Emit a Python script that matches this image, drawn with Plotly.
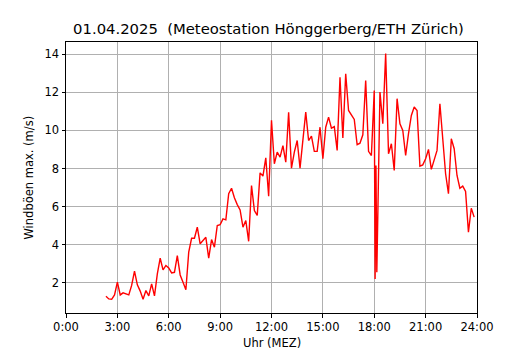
import plotly.graph_objects as go

times = ["02:20","02:30","02:40","02:50","03:00","03:10","03:20","03:30","03:40","03:50",
         "04:00","04:10","04:20","04:30","04:40","04:50","05:00","05:10","05:20","05:30",
         "05:40","05:50","06:00","06:10","06:20","06:30","06:40","06:50","07:00","07:10",
         "07:20","07:30","07:40","07:50","08:00","08:10","08:20","08:30","08:40","08:50",
         "09:00","09:10","09:20","09:30","09:40","09:50","10:00","10:10","10:20","10:30",
         "10:40","10:50","11:00","11:10","11:20","11:30","11:40","11:50","12:00","12:10",
         "12:20","12:30","12:40","12:50","13:00","13:10","13:20","13:30","13:40","13:50",
         "14:00","14:10","14:20","14:30","14:40","14:50","15:00","15:10","15:20","15:30",
         "15:40","15:50","16:00","16:10","16:20","16:30","16:40","16:50","17:00","17:10",
         "17:20","17:30","17:40","17:50","18:00","18:03","18:06","18:09","18:20","18:30",
         "18:40","18:50","19:00","19:10","19:20","19:30","19:40","19:50","20:00","20:10",
         "20:20","20:30","20:40","20:50","21:00","21:10","21:20","21:30","21:40","21:50",
         "22:00","22:10","22:20","22:30","22:40","22:50","23:00","23:10","23:20","23:30",
         "23:40","23:50"]
gusts = [1.28,1.14,1.12,1.35,2.02,1.35,1.46,1.40,1.35,1.85,
         2.60,1.88,1.55,1.12,1.58,1.30,1.93,1.30,2.46,3.28,
         2.67,2.90,2.77,2.51,2.54,3.42,2.40,2.02,1.62,3.60,
         4.33,4.33,4.91,4.04,4.21,4.38,3.28,4.26,3.86,5.00,
         5.05,5.35,5.30,6.67,6.96,6.46,6.10,5.82,4.91,5.26,
         4.17,7.10,5.79,5.53,7.77,7.60,8.56,6.54,10.53,8.25,
         8.86,8.60,9.20,8.33,10.96,8.02,8.86,9.47,8.02,9.50,
         10.96,9.47,9.70,8.90,8.90,10.17,8.51,10.17,10.70,10.12,
         10.20,8.95,12.80,9.60,12.98,11.05,10.79,10.58,9.25,9.33,
         9.77,12.63,8.90,8.68,12.10,2.19,8.16,2.54,12.02,10.35,
         14.04,8.77,9.30,7.90,11.67,10.35,10.00,8.68,9.83,10.79,
         11.23,11.05,8.12,8.19,8.51,9.00,7.95,8.42,8.95,11.40,
         9.38,7.72,6.67,9.56,9.04,7.63,6.96,7.07,6.79,4.65,
         5.91,5.44]
x_tickvals = [0, 3, 6, 9, 12, 15, 18, 21, 24]
x_ticktext = ["0:00", "3:00", "6:00", "9:00", "12:00", "15:00", "18:00", "21:00", "24:00"]
y_tickvals = [2, 4, 6, 8, 10, 12, 14]

hours = [int(t[:2]) + int(t[3:]) / 60 for t in times]

fig = go.Figure(go.Scatter(x=hours, y=gusts, mode="lines",
                           line=dict(color="#ff0000", width=1.4), hoverinfo="skip"))

font = "DejaVu Sans, sans-serif"
axis_common = dict(showline=True, linecolor="black", linewidth=1, mirror=True,
                   ticks="outside", ticklen=3.5, tickwidth=0.8, tickcolor="black",
                   showgrid=True, gridcolor="#b0b0b0", gridwidth=0.8, zeroline=False,
                   automargin=False,
                   tickfont=dict(family=font, size=11.5, color="black"))

W, H = 522, 342
L, R, T, B = 58, 53, 34, 37
pw, ph = W - L - R, H - T - B

fig.update_layout(
    width=W, height=H,
    margin=dict(l=L, r=R, t=T, b=B, autoexpand=False),
    paper_bgcolor="white", plot_bgcolor="white",
    showlegend=False,
    title=dict(text="01.04.2025\u00a0\u00a0(Meteostation Hönggerberg/ETH Zürich)",
               x=(L + pw / 2 - 3) / W, xanchor="center", y=1 - 20.5 / H, yanchor="middle",
               font=dict(family=font, size=14.8, color="black")),
    xaxis=dict(range=[0, 24], tickvals=x_tickvals, ticktext=x_ticktext, **axis_common),
    yaxis=dict(range=[0.4, 14.65], tickvals=y_tickvals, **axis_common),
    annotations=[
        dict(text="Uhr (MEZ)", xref="paper", yref="paper", x=0.5, y=-(334.5 - (T + ph)) / ph,
             xanchor="center", yanchor="middle", showarrow=False,
             font=dict(family=font, size=11.5, color="black")),
        dict(text="Windböen max. (m/s)", xref="paper", yref="paper", x=(20 - L) / pw, y=0.5,
             xanchor="center", yanchor="middle", textangle=-90, showarrow=False,
             font=dict(family=font, size=11.5, color="black")),
    ],
)

fig.write_html("out.html")
